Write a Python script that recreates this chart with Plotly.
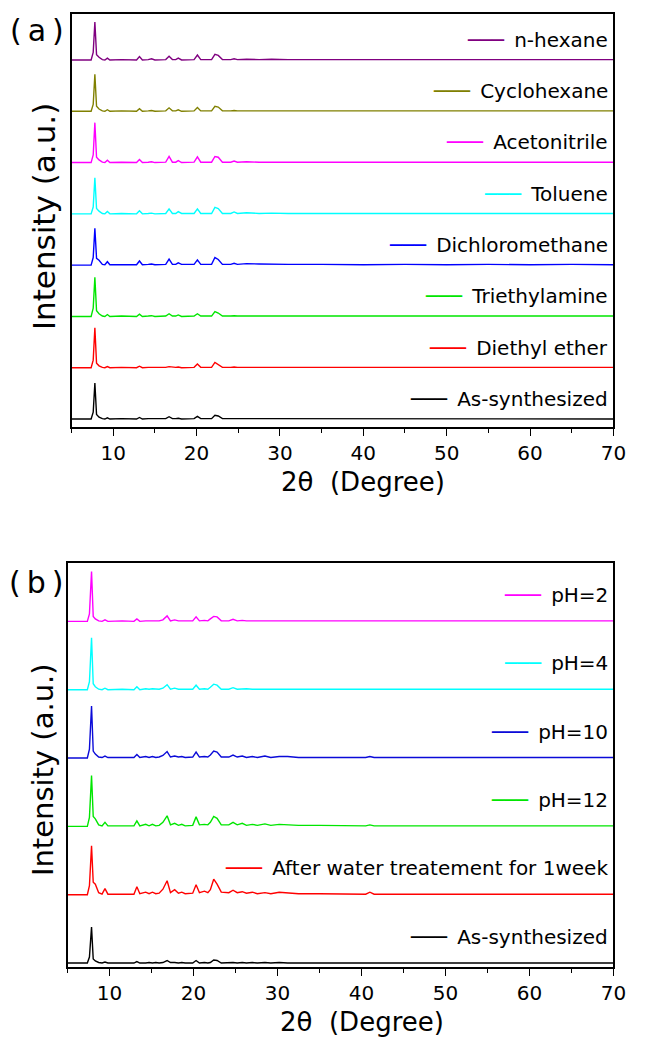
import plotly.graph_objects as go

# ---------------- data: panel (a) ----------------
XA = [5.0, 7.35, 7.6, 7.8, 8.0, 8.3, 8.7, 9.0, 9.3, 9.6, 11.0, 12.8, 13.15, 13.5, 14.2,
      14.6, 15.0, 16.3, 16.7, 17.1, 17.5, 17.8, 18.2, 19.7, 20.1, 20.5, 21.8, 22.2, 22.6,
      23.1, 24.1, 24.5, 24.9, 26.0, 27.5, 29.0, 31.0, 35.0, 40.0, 45.0, 50.0, 55.0, 60.0,
      65.0, 70.0]

A_AS = [0, 0, 18, 95, 12, 5, 1, 0, 3, 0, 1, 0, 4, 0, 1, 1, 0, 1, 6, 1, 1, 2, 0, 1, 7, 1,
        1, 10, 8, 1, 1, 1, 1, 1, 1, 1, 1, 0, 0, 0, 0, 0, 0, 0, 0]
A_DEE = [0, 0, 20, 105, 12, 5, 1, 0, 3, 0, 1, 0, 4, 0, 1, 1, 0, 1, 3, 1, 1, 2, 0, 1, 10, 1,
         1, 14, 9, 1, 1, 2, 1, 1, 1, 1, 1, 1, 1, 1, 1, 1, 1, 1, 1]
A_TEA = [0, 0, 22, 103, 15, 7, 1, 0, 5, 0, 1, 0, 6, 0, 1, 2, 0, 1, 7, 1, 1, 4, 0, 1, 7, 1,
         1, 13, 9, 1, 1, 2, 1, 1, 1, 1, 1, 1, 1, 1, 1, 1, 1, 1, 1]
A_DCM = [0, 0, 20, 97, 18, 13, 2, 1, 9, 1, 1, 1, 11, 1, 2, 3, 1, 2, 16, 2, 2, 6, 2, 2, 14, 2,
         2, 20, 15, 2, 2, 5, 2, 4, 3, 2, 2, 2, 1, 2, 1, 2, 1, 2, 1]
A_TOL = [0, 0, 18, 95, 14, 7, 1, 0, 6, 0, 1, 0, 8, 0, 1, 2, 0, 1, 13, 1, 1, 6, 1, 1, 13, 1,
         1, 17, 14, 1, 1, 5, 1, 3, 1, 2, 1, 1, 1, 1, 1, 1, 1, 1, 1]
A_ACN = [0, 0, 20, 105, 14, 7, 1, 0, 6, 0, 1, 0, 8, 0, 1, 2, 0, 1, 16, 1, 1, 5, 0, 1, 15, 1,
         1, 16, 14, 1, 1, 4, 1, 2, 1, 1, 1, 1, 1, 1, 1, 1, 1, 1, 1]
A_CYC = [0, 0, 18, 97, 13, 6, 1, 0, 4, 0, 1, 0, 7, 0, 1, 2, 0, 1, 9, 1, 1, 4, 0, 1, 10, 1,
         1, 13, 11, 1, 1, 2, 1, 1, 1, 1, 1, 1, 1, 1, 1, 1, 1, 1, 1]
A_HEX = [0, 0, 20, 100, 14, 7, 1, 0, 5, 0, 1, 0, 9, 0, 1, 3, 0, 1, 10, 1, 1, 5, 0, 1, 13, 1,
         1, 15, 12, 1, 1, 3, 1, 2, 1, 2, 1, 1, 1, 1, 1, 1, 1, 1, 1]

NAMES_A = ["As-synthesized", "Diethyl ether", "Triethylamine", "Dichloromethane",
           "Toluene", "Acetonitrile", "Cyclohexane", "n-hexane"]
SERIES_A = [A_AS, A_DEE, A_TEA, A_DCM, A_TOL, A_ACN, A_CYC, A_HEX]
COLORS_A = ["#000000", "#ff0000", "#00e600", "#0000ff", "#00ffff", "#ff00ff", "#808000", "#800080"]
OFFSET_A = 135

# ---------------- data: panel (b) ----------------
XB = [5.0, 7.35, 7.6, 7.85, 8.05, 8.3, 8.7, 9.1, 9.45, 9.8, 11.5, 12.9, 13.25, 13.6, 14.3,
      14.7, 15.1, 15.5, 15.9, 16.35, 16.85, 17.25, 17.75, 18.2, 18.6, 19.0, 19.9, 20.3,
      20.7, 21.3, 21.7, 22.0, 22.4, 22.8, 23.3, 24.2, 24.7, 25.2, 25.8, 26.3, 27.0, 27.6,
      28.5, 29.2, 30.2, 31.2, 32.5, 35.0, 40.5, 41.0, 41.5, 45.0, 50.0, 55.0, 60.0, 65.0,
      70.0]

B_AS = [0, 0, 12, 72, 8, 4, 1, 0, 2, 0, 0, 0, 3, 0, 0, 1, 0, 1, 0, 1, 5, 1, 1, 0, 1, 0, 0,
        5, 0, 1, 0, 1, 6, 5, 0, 1, 1, 0, 1, 0, 1, 0, 1, 0, 1, 0, 0, 0, 0, 1, 0, 0, 0, 0, 0,
        0, 0]
B_WATER = [0, 0, 18, 98, 25, 21, 4, 1, 12, 1, 1, 1, 16, 2, 5, 2, 5, 2, 3, 11, 28, 4, 10, 3,
           5, 2, 3, 20, 4, 7, 4, 10, 31, 21, 5, 4, 9, 4, 6, 3, 5, 2, 4, 2, 5, 4, 2, 2, 1, 5,
           1, 1, 1, 1, 1, 1, 1]
B_PH12 = [0, 0, 18, 102, 20, 15, 3, 1, 8, 1, 1, 1, 11, 1, 4, 1, 4, 1, 2, 8, 21, 3, 6, 2, 4,
          1, 2, 19, 3, 4, 3, 8, 20, 16, 3, 3, 8, 3, 6, 2, 4, 2, 5, 2, 4, 3, 2, 2, 1, 3, 1, 1,
          1, 1, 1, 1, 1]
B_PH10 = [0, 0, 18, 104, 14, 8, 2, 1, 4, 1, 1, 1, 7, 1, 3, 1, 3, 1, 2, 5, 13, 2, 4, 2, 3, 1,
          2, 12, 2, 3, 2, 6, 14, 12, 2, 2, 6, 2, 4, 1, 3, 1, 4, 1, 3, 3, 1, 1, 1, 3, 1, 1, 1,
          1, 1, 1, 1]
B_PH4 = [0, 0, 16, 104, 12, 6, 1, 0, 3, 0, 1, 0, 6, 0, 2, 1, 2, 1, 1, 3, 10, 1, 3, 1, 1, 0,
         1, 9, 1, 2, 1, 5, 11, 9, 1, 1, 4, 1, 2, 2, 1, 1, 2, 1, 1, 1, 1, 1, 1, 1, 1, 1, 1, 1,
         1, 1, 1]
B_PH2 = [0, 0, 15, 100, 10, 5, 1, 0, 3, 0, 1, 0, 5, 0, 1, 1, 1, 1, 1, 3, 11, 1, 3, 1, 1, 0,
         1, 9, 1, 2, 1, 5, 10, 9, 1, 1, 4, 1, 2, 1, 1, 1, 1, 1, 1, 1, 1, 1, 1, 1, 1, 1, 1, 1,
         1, 1, 1]

NAMES_B = ["As-synthesized", "After water treatement for 1week", "pH=12", "pH=10",
           "pH=4", "pH=2"]
SERIES_B = [B_AS, B_WATER, B_PH12, B_PH10, B_PH4, B_PH2]
COLORS_B = ["#000000", "#ff0000", "#00e600", "#0a0ad8", "#00ffff", "#ff00ff"]
OFFSET_B = 137

TICKS = [10, 20, 30, 40, 50, 60, 70]

FONT = "DejaVu Sans"
W, H = 646, 1046

fig = go.Figure()

for i, (name, ys, c) in enumerate(zip(NAMES_A, SERIES_A, COLORS_A)):
    fig.add_trace(go.Scatter(x=XA, y=[v + i * OFFSET_A for v in ys], mode="lines",
                             line=dict(color=c, width=1.4), name=name,
                             xaxis="x", yaxis="y", showlegend=False))
for i, (name, ys, c) in enumerate(zip(NAMES_B, SERIES_B, COLORS_B)):
    fig.add_trace(go.Scatter(x=XB, y=[v + i * OFFSET_B for v in ys], mode="lines",
                             line=dict(color=c, width=1.4), name=name,
                             xaxis="x2", yaxis="y2", showlegend=False))

def px_x(p):
    return p / W

def px_y(p):
    return 1 - p / H

xcommon = dict(range=[5, 70], tickvals=TICKS, ticks="outside", ticklen=7, tickwidth=1.4,
               tickcolor="black", showline=True, linecolor="black", linewidth=1.6,
               mirror=True, showgrid=False, zeroline=False,
               tickfont=dict(family=FONT, size=20, color="black"),
               minor=dict(tickvals=[5, 15, 25, 35, 45, 55, 65], ticks="outside",
                          ticklen=4, tickwidth=1.2, tickcolor="black"))
ycommon = dict(showline=True, linecolor="black", linewidth=1.6, mirror=True,
               showgrid=False, zeroline=False, showticklabels=False, ticks="")

fig.update_layout(
    width=W, height=H, margin=dict(l=0, r=0, t=0, b=0),
    paper_bgcolor="white", plot_bgcolor="white",
    xaxis=dict(domain=[px_x(73), px_x(626)], anchor="y", **xcommon),
    yaxis=dict(domain=[px_y(427), px_y(14)], anchor="x", range=[-21, 1066], **ycommon),
    xaxis2=dict(domain=[px_x(69), px_x(626)], anchor="y2", **xcommon),
    yaxis2=dict(domain=[px_y(967), px_y(563)], anchor="x2", range=[-8, 802], **ycommon),
)

ann = []
for i, (name, c) in enumerate(zip(NAMES_A, COLORS_A)):
    ann.append(dict(x=69.6, y=i * OFFSET_A + 53, xref="x", yref="y", xanchor="right",
                    yanchor="middle", showarrow=False,
                    text=f'<span style="color:{c}">───</span>\u2002{name}',
                    font=dict(family=FONT, size=20, color="black")))
for i, (name, c) in enumerate(zip(NAMES_B, COLORS_B)):
    ann.append(dict(x=69.6, y=i * OFFSET_B + 53, xref="x2", yref="y2", xanchor="right",
                    yanchor="middle", showarrow=False,
                    text=f'<span style="color:{c}">───</span>\u2002{name}',
                    font=dict(family=FONT, size=20, color="black")))

# axis titles and panel labels
for xr, yc in (("x", 482), ("x2", 1022)):
    ann.append(dict(x=40, y=px_y(yc), xref=xr, yref="paper", xanchor="center",
                    yanchor="middle", showarrow=False, text="2θ\u00a0\u00a0(Degree)",
                    font=dict(family=FONT, size=26, color="black")))
ann.append(dict(x=px_x(45), y=px_y(217), xref="paper", yref="paper", textangle=-90,
                xanchor="center", yanchor="middle", showarrow=False,
                text="Intensity (a.u.)", font=dict(family=FONT, size=31, color="black")))
ann.append(dict(x=px_x(44), y=px_y(770), xref="paper", yref="paper", textangle=-90,
                xanchor="center", yanchor="middle", showarrow=False,
                text="Intensity (a.u.)", font=dict(family=FONT, size=29, color="black")))
ann.append(dict(x=px_x(38), y=px_y(31), xref="paper", yref="paper", xanchor="center",
                yanchor="middle", showarrow=False, text="(\u2009a\u2009)",
                font=dict(family=FONT, size=30, color="black")))
ann.append(dict(x=px_x(37), y=px_y(582), xref="paper", yref="paper", xanchor="center",
                yanchor="middle", showarrow=False, text="(\u2009b\u2009)",
                font=dict(family=FONT, size=30, color="black")))

fig.update_layout(annotations=ann)
fig.write_html("out.html")
